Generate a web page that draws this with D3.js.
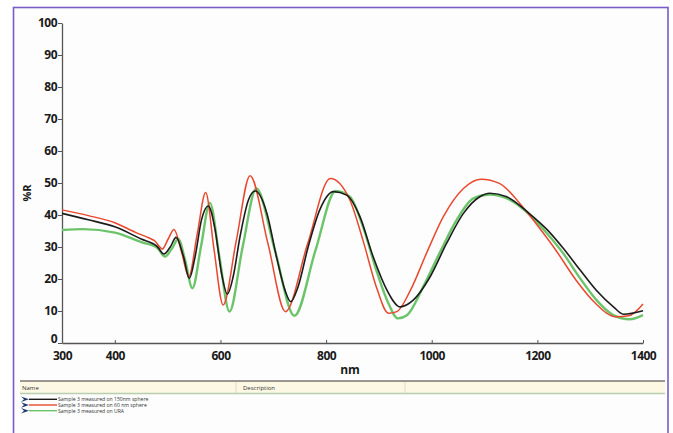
<!DOCTYPE html>
<html><head><meta charset="utf-8">
<script src="https://cdn.jsdelivr.net/npm/d3@7"></script>
<style>
html,body{margin:0;padding:0;background:#fff;}
svg{display:block;}
</style></head>
<body>
<svg id="c" width="673" height="433"></svg>
<script>
// ---- data ----
const xTicks = [300, 400, 600, 800, 1000, 1200, 1400];
const yTicks = [0, 10, 20, 30, 40, 50, 60, 70, 80, 90, 100];
const seriesNames = ["Sample 3 measured on 150nm sphere", "Sample 3 measured on 60 nm sphere", "Sample 3 measured on URA"];
const seriesColors = ["#1c1c1c", "#e9482f", "#6cc46a"];

const nmBlack = [300,350,400,450,480,493,505,516,530,541,552,564,577,590,602,613,624,637,653,666,688,706,722,733,747,766,788,814,839,864,889,915,940,965,997,1028,1060,1091,1110,1142,1186,1218,1249,1281,1312,1344,1363,1400];
const rBlack  = [40.5,38.5,36.3,32.5,30.2,27.8,30,33,27,20.2,27,38.4,42.8,35.3,21.8,15.3,20.7,33.2,44.7,47.5,40.5,27,16.6,12.9,17.6,30,41.6,47.3,46.2,39.5,27,16.6,11.3,13.4,20.7,31.1,40.5,45.7,46.8,45.7,40.3,35.5,29.6,22.8,16.4,11.3,9,10.1];

const nmRed = [300,350,400,440,465,475,490,501,512,527,540,556,572,588,605,630,656,690,723,765,808,845,870,895,918,934,960,990,1022,1060,1094,1128,1172,1197,1235,1273,1310,1348,1373,1400];
const rRed  = [41.6,39.8,37.6,34.5,32.8,32,29.4,32.5,35.5,28,20.7,34,47,29,11.9,32,52.3,31,9.8,31,51.4,44.7,32,17.6,9.3,9.8,16.6,28,39.5,48.3,51.2,49.9,42.6,37.4,29,19.7,12.4,8.2,8.5,12.2];

const nmGreen = [300,340,400,450,480,495,508,520,533,547,563,580,598,617,642,668,703,740,780,818,845,870,895,918,936,953,984,1016,1047,1079,1110,1142,1186,1218,1249,1281,1312,1344,1375,1400];
const rGreen  = [35.3,35.6,34.5,31.5,29.8,27,29.5,32.5,26,17.1,30,43.8,27,9.8,30,48.3,29,8.5,29,47.5,45.7,36.3,22.8,12.4,7.7,8.7,17.6,28.5,38.4,45.2,46.4,45.2,40,34.3,28,20.2,13.4,8.7,7.4,8.7];

// ---- drawing ----
const svg = d3.select("#c");
svg.append("rect").attr("x",0).attr("y",0).attr("width",673).attr("height",433).attr("fill","#fff");
svg.append("rect").attr("x",13.5).attr("y",7.5).attr("width",654.5).attr("height",440)
  .attr("fill","#fdfdfd").attr("stroke","#7a5cc6").attr("stroke-width",1.6);

const x = d3.scaleLinear().domain([300,1400]).range([62,643]);
const y = d3.scaleLinear().domain([0,100]).range([343,23]);
const font = "'Open Sans', 'DejaVu Sans', sans-serif";

const xAxis = svg.append("g").attr("transform","translate(0,343)")
  .call(d3.axisBottom(x).tickValues(xTicks).tickFormat(d3.format("d")).tickSizeInner(-3).tickSizeOuter(0).tickPadding(8));
const yAxis = svg.append("g").attr("transform","translate(62,0)")
  .call(d3.axisLeft(y).tickValues(yTicks).tickFormat(d3.format("d")).tickSizeInner(4).tickSizeOuter(0).tickPadding(1));
[xAxis,yAxis].forEach(g=>{
  g.select(".domain").attr("stroke","#555").attr("stroke-width",1.3);
  g.selectAll(".tick line").attr("stroke","#555");
  g.selectAll("text").attr("fill","#1a1a1a").style("font-family",font)
    .style("font-size","12px").style("font-weight","700").style("letter-spacing","-0.5px");
});
yAxis.selectAll(".tick").filter(d=>d===0).select("text").attr("y",-4.5);

svg.append("text").attr("x",350).attr("y",374).attr("text-anchor","middle")
  .style("font-family",font).style("font-size","12px").style("font-weight","700").attr("fill","#1a1a1a").text("nm");
svg.append("text").attr("transform","translate(31,193) rotate(-90)").attr("text-anchor","middle")
  .style("font-family",font).style("font-size","11px").style("font-weight","700").attr("fill","#1a1a1a").text("%R");

const line = d3.line().x(d=>x(d[0])).y(d=>y(d[1])).curve(d3.curveMonotoneX);
const series = [
  {nm:nmGreen, r:rGreen, c:seriesColors[2], w:2.4},
  {nm:nmRed, r:rRed, c:seriesColors[1], w:1.5},
  {nm:nmBlack, r:rBlack, c:seriesColors[0], w:1.6}
];
series.forEach(s=>{
  svg.append("path").datum(d3.zip(s.nm, s.r)).attr("d",line)
    .attr("fill","none").attr("stroke",s.c).attr("stroke-width",s.w).attr("stroke-linejoin","round");
});

// ---- legend table ----
svg.append("rect").attr("x",20).attr("y",381).attr("width",645).attr("height",12).attr("fill","#fcf8e4");
svg.append("line").attr("x1",20).attr("x2",665).attr("y1",381).attr("y2",381).attr("stroke","#7a7470").attr("stroke-width",1.4);
svg.append("line").attr("x1",20).attr("x2",665).attr("y1",393.5).attr("y2",393.5).attr("stroke","#b9cdb0").attr("stroke-width",1.6);
[236,405].forEach(cx=>svg.append("line").attr("x1",cx).attr("x2",cx).attr("y1",382).attr("y2",393).attr("stroke","#d8d2c0").attr("stroke-width",0.8));
svg.append("text").attr("x",22).attr("y",389.5).style("font-family",font).style("font-size","6px").attr("fill","#333").text("Name");
svg.append("text").attr("x",243).attr("y",389.5).style("font-family",font).style("font-size","6px").attr("fill","#333").text("Description");

[0,1,2].forEach((i,k)=>{
  const cy = 399.3 + k*5.7;
  svg.append("path").attr("d",`M21,${cy-2.8} L29,${cy} L21,${cy+2.8} L24,${cy} Z`).attr("fill","#1d3b73");
  svg.append("line").attr("x1",29).attr("x2",57).attr("y1",cy).attr("y2",cy)
    .attr("stroke",seriesColors[i]).attr("stroke-width",1.4);
  svg.append("text").attr("x",58).attr("y",cy+1.8).style("font-family",font).style("font-size","5.1px")
    .attr("fill","#333").text(seriesNames[i]);
});
</script>
</body></html>
